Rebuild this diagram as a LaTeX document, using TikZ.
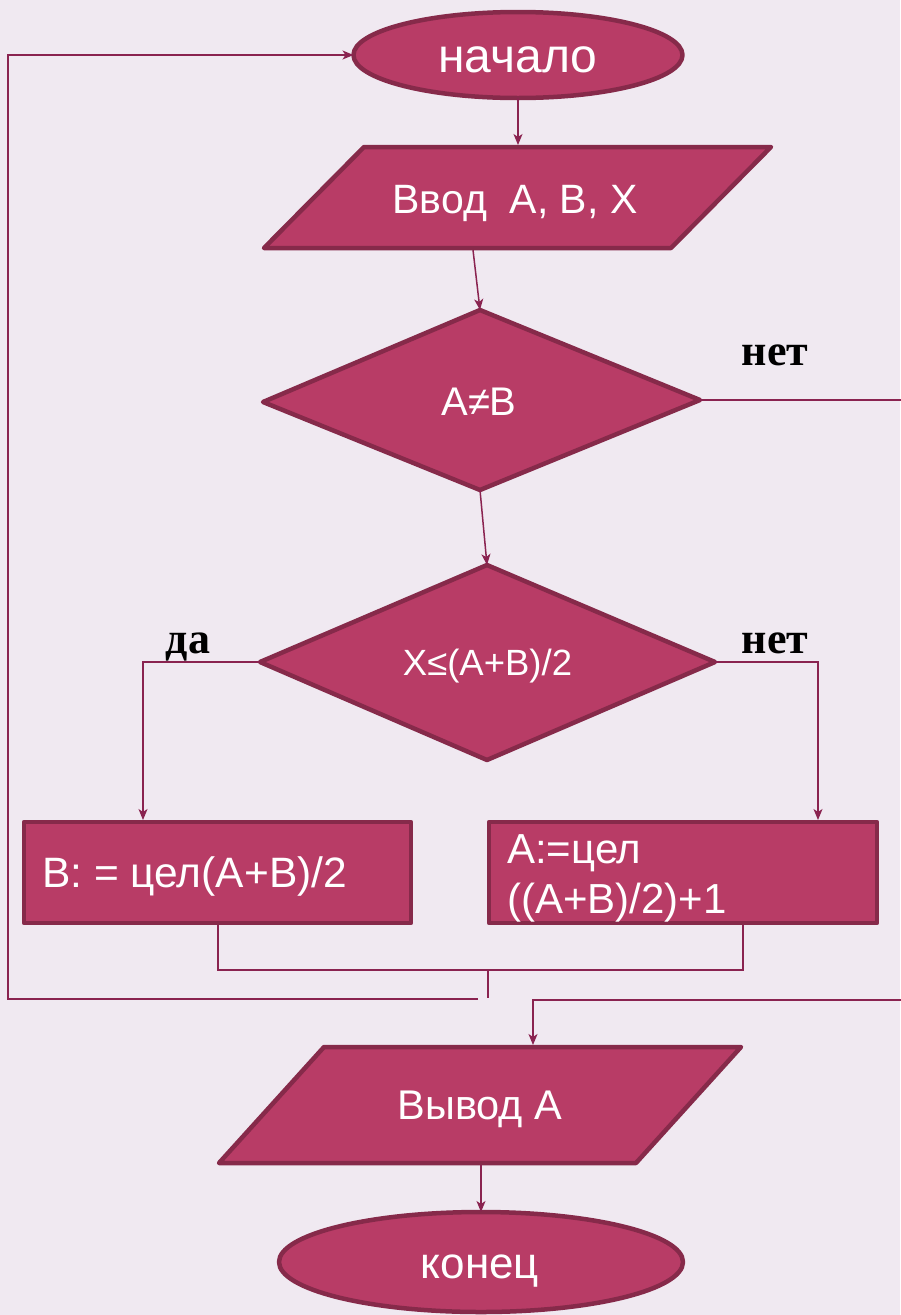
\documentclass[tikz,border=0pt]{standalone}
\usepackage{fontspec}
\setmainfont{Liberation Sans}
\newfontfamily\serifb{Liberation Serif}
\usetikzlibrary{arrows.meta,shapes.geometric}
\definecolor{bg}{HTML}{F0E9F1}
\definecolor{shfill}{HTML}{B83C66}
\definecolor{shdraw}{HTML}{862A4A}
\definecolor{conncol}{HTML}{8A2350}
\begin{document}
\begin{tikzpicture}[x=1pt,y=-1pt,
  shapestyle/.style={fill=shfill,draw=shdraw,line width=4.5pt,line join=round},
  term/.style={shapestyle,ellipse,inner sep=0pt,outer sep=0pt},
  box/.style={shapestyle,rectangle,inner sep=0pt,outer sep=0pt},
  txt/.style={text=white,inner sep=0pt,font=\fontsize{42}{50}\selectfont},
  lbl/.style={text=black,inner sep=0pt,font=\serifb\bfseries\fontsize{44}{50}\selectfont},
  conn/.style={draw=conncol,line width=1.5pt},
  arr/.style={conn,-{Stealth[length=11pt,width=9pt,inset=3pt]}}]
\fill[bg] (0,0) rectangle (900,1315);
\useasboundingbox (0,0) rectangle (900,1315);

% start
\node[term,minimum width=329pt,minimum height=86pt] (start) at (518,55) {};
\node[txt,anchor=base,font=\fontsize{48}{50}\selectfont] (starttxt) at (518,72) {начало};

% input
\coordinate (inTL) at (364,147);
\coordinate (inTR) at (771,147);
\coordinate (inBR) at (671,248);
\coordinate (inBL) at (264,248);
\filldraw[shapestyle] (inTL) -- (inTR) -- (inBR) -- (inBL) -- cycle;
\node[txt,anchor=base,font=\fontsize{41}{50}\selectfont] (intxt) at (515,213) {Ввод~ A, B, X};
\coordinate (inTop) at (518,145);
\coordinate (inBot) at (473,250);

% decision 1
\coordinate (d1T) at (480,310);
\coordinate (d1R) at (700,400);
\coordinate (d1B) at (480,490);
\coordinate (d1L) at (263,402);
\filldraw[shapestyle] (d1T) -- (d1R) -- (d1B) -- (d1L) -- cycle;
\node[txt,anchor=base,font=\fontsize{40}{50}\selectfont] (d1txt) at (479,415) {A≠B};
\node[lbl,anchor=base] (no1) at (775,365) {нет};
\coordinate (off1) at (902,400);

% decision 2
\coordinate (d2T) at (487,565);
\coordinate (d2R) at (715,662);
\coordinate (d2B) at (487,760);
\coordinate (d2L) at (260,662);
\filldraw[shapestyle] (d2T) -- (d2R) -- (d2B) -- (d2L) -- cycle;
\node[txt,anchor=base,font=\fontsize{36.5}{40}\selectfont] (d2txt) at (487.5,675) {X≤(A+B)/2};
\node[lbl,anchor=base] (yes2) at (188,653) {да};
\node[lbl,anchor=base] (no2) at (775,653) {нет};

% boxes
\node[box,minimum width=387pt,minimum height=101pt] (b1) at (217.5,872.5) {};
\node[txt,anchor=base west,font=\fontsize{42.5}{50}\selectfont] (b1txt) at (42,887) {B: = цел(A+B)/2};
\node[box,minimum width=388pt,minimum height=101pt] (b2) at (683,872.5) {};
\node[txt,anchor=base west] (b2txta) at (507,863) {A:=цел};
\node[txt,anchor=base west] (b2txtb) at (507,913) {((A+B)/2)+1};
\coordinate (b1in) at (143,820);
\coordinate (b2in) at (818,820);
\coordinate (b1out) at (218,925);
\coordinate (b2out) at (743,925);
\coordinate (merge) at (488,970);
\coordinate (mergeEnd) at (488,998);
\coordinate (loopStart) at (478,999);
\coordinate (loopCorner) at (8,999);
\coordinate (off2) at (902,1000);

% output
\coordinate (outTL) at (324,1047);
\coordinate (outTR) at (741,1047);
\coordinate (outBR) at (636,1163);
\coordinate (outBL) at (219,1163);
\filldraw[shapestyle] (outTL) -- (outTR) -- (outBR) -- (outBL) -- cycle;
\node[txt,anchor=base,font=\fontsize{41.5}{50}\selectfont] (outtxt) at (480,1119) {Вывод A};
\coordinate (outIn) at (533,1045);
\coordinate (outBot) at (481,1165);

% end
\node[term,minimum width=404pt,minimum height=100pt] (stop) at (481,1262) {};
\node[txt,anchor=base,font=\fontsize{44}{50}\selectfont] (stoptxt) at (480,1278) {конец};

% connectors
\draw[arr] (start.south) -- (inTop);
\draw[arr] (inBot) -- (d1T);
\draw[conn] (d1R) -- (off1);
\draw[arr] (d1B) -- (d2T);
\draw[arr] (d2L) -| (b1in);
\draw[arr] (d2R) -| (b2in);
\draw[conn] (b1out) |- (merge) -| (b2out);
\draw[conn] (merge) -- (mergeEnd);
\draw[arr] (loopStart) -- (loopCorner) |- (start.west);
\draw[arr] (off2) -| (outIn);
\draw[arr] (outBot) -- (stop.north);
\end{tikzpicture}
\end{document}
